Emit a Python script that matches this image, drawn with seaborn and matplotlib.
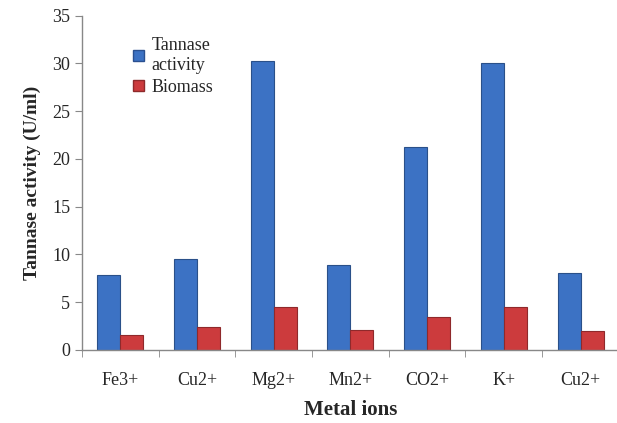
import numpy as np
import pandas as pd
import matplotlib
matplotlib.use('Agg')
import matplotlib.pyplot as plt
import seaborn as sns
from matplotlib.patches import Patch

ions = ['Fe3+', 'Cu2+', 'Mg2+', 'Mn2+', 'CO2+', 'K+', 'Cu2+']
tannase = [7.8, 9.5, 30.2, 8.9, 21.2, 30.0, 8.0]
biomass = [1.5, 2.4, 4.5, 2.1, 3.4, 4.5, 2.0]

# unique keys so the repeated Cu2+ stays a separate group
keys = [f'{i}_{n}' for i, n in enumerate(ions)]
df = pd.DataFrame({
    'Ion': keys * 2,
    'Value': tannase + biomass,
    'Series': ['Tannase activity'] * len(ions) + ['Biomass'] * len(ions),
})

sns.set_style('white')
plt.rcParams['font.family'] = ['Liberation Serif', 'DejaVu Serif']

fig = plt.figure(figsize=(6.17, 4.23), dpi=100)
ax = fig.add_axes([0.133, 0.173, 0.87, 0.79])

blue = '#3C72C4'
red = '#CC3B3D'
sns.barplot(data=df, x='Ion', y='Value', hue='Series', order=keys,
            palette=[blue, red], width=0.6, gap=0, ax=ax, legend=False,
            edgecolor='none', saturation=1)

# slight darker edges like the 3D look
for p in ax.patches:
    fc = p.get_facecolor()
    p.set_edgecolor(tuple(c * 0.7 for c in fc[:3]) + (1,))
    p.set_linewidth(0.8)

ax.set_ylim(0, 35)
ax.set_xlim(-0.5, len(ions) - 0.5)
ax.set_yticks(np.arange(0, 36, 5))
ax.set_xticks(range(len(ions)))
ax.set_xticklabels(ions, fontsize=13)
ax.tick_params(axis='y', labelsize=13, length=5, color='#888888', direction='out', left=True)
ax.tick_params(axis='x', which='major', length=0, pad=16)
ax.set_xticks(np.arange(-0.5, len(ions), 1), minor=True)
ax.tick_params(axis='x', which='minor', length=5, color='#888888', direction='out', bottom=True)

for s in ['top', 'right']:
    ax.spines[s].set_visible(False)
for s in ['left', 'bottom']:
    ax.spines[s].set_color('#888888')
    ax.spines[s].set_linewidth(1)

ax.set_ylabel('Tannase activity (U/ml)', fontsize=14, fontweight='bold', labelpad=8)
ax.set_xlabel('Metal ions', fontsize=15, fontweight='bold', labelpad=8)

handles = [Patch(facecolor=blue, edgecolor='#2a5090'), Patch(facecolor=red, edgecolor='#8e2a2b')]
ax.legend(handles, ['Tannase\nactivity', 'Biomass'], loc='upper left',
          bbox_to_anchor=(0.065, 0.985), frameon=False, fontsize=13,
          handlelength=0.6, handleheight=0.6, handletextpad=0.4, labelspacing=0.3)

fig.savefig('out.png', dpi=100)
